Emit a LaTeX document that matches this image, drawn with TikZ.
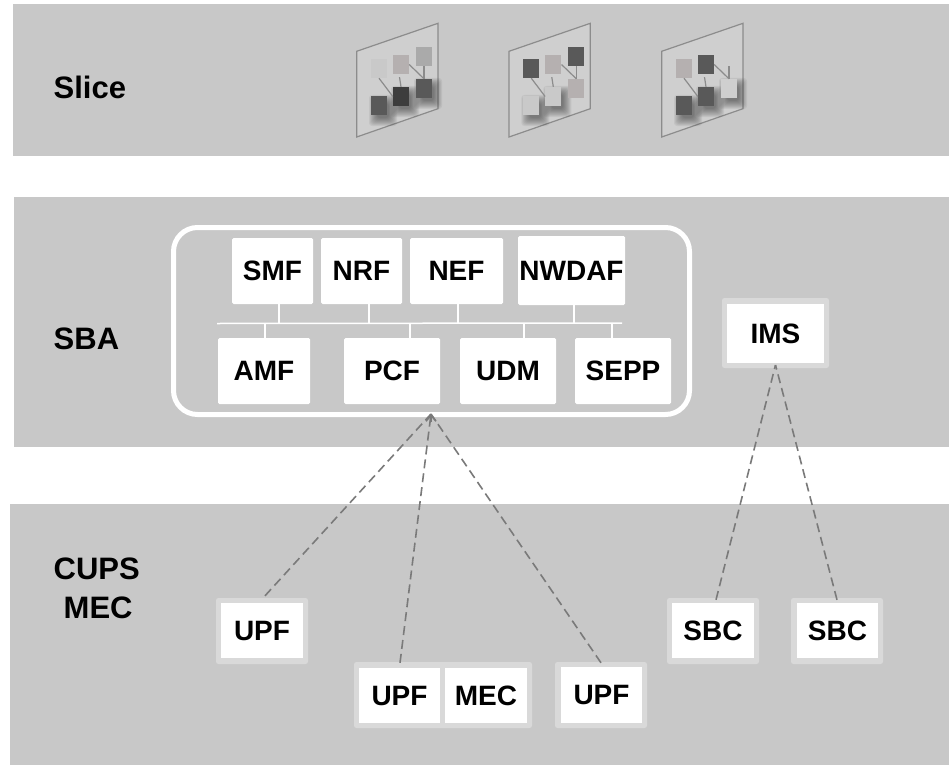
\documentclass[tikz,border=0pt]{standalone}
\usepackage{fontspec}
\setmainfont{Liberation Sans}
\usetikzlibrary{arrows.meta,calc}
\definecolor{bandgray}{HTML}{C8C8C8}
\definecolor{ringgray}{HTML}{D9D9D9}
\definecolor{planefill}{HTML}{CFCFCF}
\definecolor{planeline}{HTML}{8C8C8C}
\definecolor{dashgray}{HTML}{7A7A7A}
\definecolor{sqL}{HTML}{C9C9C9}
\definecolor{sqM}{HTML}{B5B0B0}
\definecolor{sqN}{HTML}{AAAAAA}
\definecolor{sqD}{HTML}{595959}
\definecolor{sqK}{HTML}{3D3D3D}
\tikzset{
  x=1pt,y=-1pt,
  band/.style={fill=bandgray,draw=none},
  heading/.style={font=\fontsize{31}{31}\selectfont\bfseries,anchor=west,inner sep=0pt,text=black},
  nfbox/.style={fill=white,draw=none,rounded corners=1.5pt,inner sep=0pt,
    font=\fontsize{28}{28}\selectfont\bfseries,text=black},
  ringbox/.style={fill=ringgray,draw=none,rounded corners=2.5pt,inner sep=0pt},
  busline/.style={draw=white,line width=1.5pt},
  dashlink/.style={draw=dashgray,line width=1.6pt,dash pattern=on 9pt off 5pt},
  planeshape/.style={fill=planefill,draw=planeline,line width=1.2pt},
  planesq/.style={draw=none,inner sep=0pt,minimum width=16pt,minimum height=19pt},
  planelink/.style={draw=planeline,line width=1.2pt},
}
% box between corners x1,y1,x2,y2
\newcommand{\pbox}[7]{%
  \pgfmathsetmacro{\bxw}{#5-#3}\pgfmathsetmacro{\bxh}{#6-#4}%
  \pgfmathsetmacro{\bxc}{(#3+#5)/2}\pgfmathsetmacro{\byc}{(#4+#6)/2}%
  \node[#1,minimum width=\bxw pt,minimum height=\bxh pt] (#2) at (\bxc,\byc) {#7};}
% soft shadow under a slice square with top-left corner x,y
\newcommand{\softshadow}[2]{%
  \foreach \ss in {0,...,8}{%
    \pgfmathsetmacro{\gr}{6-\ss}%
    \fill[black,opacity=0.055,rounded corners=3pt]
      (#1+4-\gr,#2+5-\gr) rectangle (#1+20+\gr,#2+24+\gr);}}
% offset, prefix, colours a b c d e f
\newcommand{\sliceplane}[8]{%
  \begin{scope}[shift={(#1,0)}]
    \node[planesq,fill=#3] (#2a) at (379,68.5) {};
    \node[planesq,fill=#4] (#2b) at (401,64.5) {};
    \node[planesq,fill=#5] (#2c) at (424,56.5) {};
    \node[planesq,fill=#6] (#2d) at (424,88.5) {};
    \node[planesq,fill=#7] (#2e) at (401,96.5) {};
    \node[planesq,fill=#8] (#2f) at (379,105.5) {};
    \draw[planelink] (#2a.south) -- (#2e.west);
    \draw[planelink] ($(#2b.south)+(-1.5,3)$) -- (#2e.north);
    \draw[planelink] (#2b.east) -- (#2d.north);
    \draw[planelink] (#2c.south) -- (#2d.north);
  \end{scope}}
\newcommand{\planeshape}[1]{%
  \draw[planeshape,shift={(#1,0)}] (356.7,51.3) -- (438,23.3) -- (438,108.7) -- (356.7,137) -- cycle;}
\begin{document}
\begin{tikzpicture}
\useasboundingbox (0,0) rectangle (949,765);
\fill[white] (0,0) rectangle (949,765);
% bands
\fill[band] (13,4) rectangle (949,156);
\fill[band] (14,197) rectangle (949,447);
\fill[band] (10,504) rectangle (949,765);
% headings
\node[heading] (hslice) at (53.5,87) {Slice};
\node[heading] (hsba) at (53.5,339) {SBA};
\node[heading] (hcups) at (53.5,569) {CUPS};
\node[heading] (hmec) at (63.5,608) {MEC};
% slice planes
\planeshape{0}
\planeshape{152.3}
\planeshape{305}
\softshadow{371}{96}\softshadow{393}{87}\softshadow{416}{79}
\softshadow{523.3}{96}\softshadow{545.3}{87}
\softshadow{676}{96}\softshadow{698}{87}\softshadow{721}{79}
\sliceplane{0}{pa}{sqL}{sqM}{sqN}{sqD}{sqK}{sqD}
\sliceplane{152.3}{pb}{sqD}{sqM}{sqD}{sqM}{sqL}{sqL}
\sliceplane{305}{pc}{sqM}{sqD}{planefill}{planefill}{sqD}{sqD}
% SBA frame
\draw[draw=white,line width=5pt,rounded corners=24pt] (173.5,227.5) rectangle (689.5,414.5);
% NF boxes
\pbox{nfbox}{smf}{232}{238}{313}{304}{SMF}
\pbox{nfbox}{nrf}{321}{238}{402}{304}{NRF}
\pbox{nfbox}{nef}{410}{238}{503}{304}{NEF}
\pbox{nfbox}{nwdaf}{518}{236}{625}{305}{NWDAF}
\pbox{nfbox}{amf}{218}{338}{310}{404}{AMF}
\pbox{nfbox}{pcf}{344}{338}{440}{404}{PCF}
\pbox{nfbox}{udm}{460}{338}{556}{404}{UDM}
\pbox{nfbox}{sepp}{575}{338}{671}{404}{SEPP}
% bus
\coordinate (busl) at (217,323.5);
\coordinate (busr) at (622,323);
\draw[busline] (busl) -- (busr);
\draw[busline] (smf.south -| 279,0) -- (279,323.5);
\draw[busline] (nrf.south -| 369,0) -- (369,323.5);
\draw[busline] (nef.south -| 458,0) -- (458,323.5);
\draw[busline] (nwdaf.south -| 574,0) -- (574,323.5);
\draw[busline] (amf.north -| 265,0) -- (265,323.5);
\draw[busline] (pcf.north -| 410,0) -- (410,323.5);
\draw[busline] (udm.north -| 524,0) -- (524,323.5);
\draw[busline] (sepp.north -| 612,0) -- (612,323.5);
% IMS, UPF, MEC, SBC
\pbox{ringbox}{imsring}{722}{298}{829}{368}{}
\pbox{nfbox,rounded corners=0pt}{ims}{727}{304}{824}{363}{IMS}
\pbox{ringbox}{upfaring}{216}{598}{308}{664}{}
\pbox{nfbox,rounded corners=0pt}{upfa}{221}{603}{303}{658}{UPF}
\pbox{ringbox}{upfbring}{354}{662}{532}{728}{}
\pbox{nfbox,rounded corners=0pt}{upfb}{359}{668}{440}{723}{UPF}
\pbox{nfbox,rounded corners=0pt}{mec}{445}{668}{527}{723}{MEC}
\pbox{ringbox}{upfcring}{555}{662}{647}{728}{}
\pbox{nfbox,rounded corners=0pt}{upfc}{561}{667}{642}{723}{UPF}
\pbox{ringbox}{sbcaring}{667}{598}{759}{664}{}
\pbox{nfbox,rounded corners=0pt}{sbca}{672}{603}{754}{658}{SBC}
\pbox{ringbox}{sbcbring}{791}{598}{883}{664}{}
\pbox{nfbox,rounded corners=0pt}{sbcb}{797}{603}{878}{658}{SBC}
% dashed links
\coordinate (coreapex) at (431,414);
\coordinate (imsapex) at (775.5,365);
\draw[dashlink] ($(upfaring.north)+(3,-2)$) -- (coreapex);
\draw[dashlink] ($(upfbring.north)+(-43,1)$) -- (coreapex);
\draw[dashlink] ($(upfcring.north)+(0,1)$) -- (coreapex);
\draw[draw=dashgray,line width=1.6pt,-{Straight Barb[length=6pt,width=10pt]}] (431,422) -- (coreapex);
\draw[dashlink] ($(sbcaring.north)+(3,2)$) -- (imsapex);
\draw[dashlink] ($(sbcbring.north)+(0,2)$) -- (imsapex);
\end{tikzpicture}
\end{document}
